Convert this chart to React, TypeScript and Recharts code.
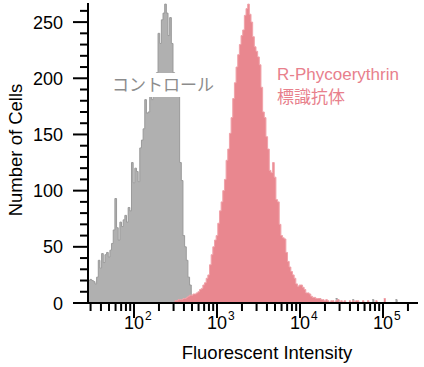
import { Area, ComposedChart, XAxis, YAxis } from "recharts";

// histogram bins on a log10 intensity scale
const binStart = 1.45;
const binWidth = 0.02;
const binCount = 190;

// control (unstained) histogram, counts per bin starting at bin 0
const controlCounts = [
  20, 21, 20, 19, 17, 23, 38, 31, 44, 36, 43, 45, 41, 47, 53, 65, 93, 67, 56, 72,
  68, 74, 78, 72, 85, 82, 125, 107, 120, 117, 108, 138, 145, 155, 181, 169, 170, 185, 181, 192,
  198, 205, 240, 231, 252, 258, 266, 258, 238, 254, 231, 205, 200, 195, 190, 125, 109, 60, 50, 38,
  23, 16, 6,
];
// a few stray control events far out on the right
const controlTailBins = [139, 149, 150, 159, 171, 185];
const controlTailCounts = [4, 4, 3, 3, 3, 3];

// R-Phycoerythrin labelled antibody histogram, starting at bin 52
const peFirstBin = 52;
const peCounts = [
  2, 2, 3, 3, 3, 4, 4, 5, 6, 7, 7, 8, 8, 9, 10, 12, 13, 16, 18, 22,
  25, 34, 43, 50, 56, 60, 71, 82, 90, 100, 110, 127, 137, 151, 165, 182, 196, 210, 221, 230,
  238, 243, 256, 262, 266, 257, 250, 237, 228, 224, 219, 212, 192, 170, 165, 148, 137, 118, 116, 125,
  112, 92, 90, 70, 60, 58, 57, 45, 37, 32, 28, 25, 22, 17, 15, 16, 16, 14, 12, 9,
  9, 8, 6, 5, 5, 4, 4, 4, 3, 3, 2, 3, 2, 0, 2, 2, 0, 2, 3, 0,
  2, 0, 2, 0, 0, 2, 0, 2, 0, 2, 2, 0, 0, 2, 0, 0, 2, 0, 0, 0,
  0, 2, 0, 0, 0, 0, 4, 0,
];

const xDecades = [2, 3, 4, 5];
const xMinorTicks = [30, 40, 50, 60, 70, 80, 90, 200, 300, 400, 500, 600, 700, 800, 900,
  2000, 3000, 4000, 5000, 6000, 7000, 8000, 9000, 20000, 30000, 40000, 50000, 60000, 70000,
  80000, 90000, 200000];
const yTicks = [0, 10, 20, 30, 40, 50, 60, 70, 80, 90, 100, 110, 120, 130, 140, 150, 160, 170,
  180, 190, 200, 210, 220, 230, 240, 250, 260];
const yLabels = [0, 50, 100, 150, 200, 250];

const controlAt = (i: number) => {
  if (i >= 0 && i < controlCounts.length) return controlCounts[i];
  const k = controlTailBins.indexOf(i);
  return k >= 0 ? controlTailCounts[k] : undefined;
};
const peAt = (i: number) => {
  const j = i - peFirstBin;
  return j >= 0 && j < peCounts.length ? peCounts[j] : undefined;
};
// step value: bar height, 0 to close the previous bar, null for no bar
const stepValue = (get: (i: number) => number | undefined, i: number) => {
  const c = get(i);
  if (c !== undefined && c > 0) return c;
  const prev = get(i - 1);
  if (prev !== undefined && prev > 0) return 0;
  return null;
};

const data = Array.from({ length: binCount }, (_, i) => ({
  x: binStart + i * binWidth,
  control: stepValue(controlAt, i),
  pe: stepValue(peAt, i),
}));

const xTicks = [...xDecades, ...xMinorTicks.map((v) => Math.log10(v))].sort((a, b) => a - b);

const font = "'Liberation Sans', Arial, sans-serif";
const jpFont = "'Noto Sans CJK JP', sans-serif";

function XTick(props: any) {
  const { x, y, payload } = props;
  const v = payload.value as number;
  const major = Math.abs(v - Math.round(v)) < 1e-6;
  return (
    <g>
      <line x1={x} x2={x} y1={y} y2={y + (major ? 15 : 8)} stroke="#000" strokeWidth={2} />
      {major && (
        <>
          <text x={x} y={y + 26} textAnchor="middle" fontSize={18} fontFamily={font} fill="#000">
            10
          </text>
          <text x={x + 11} y={y + 17} textAnchor="start" fontSize={12} fontFamily={font} fill="#000">
            {Math.round(v)}
          </text>
        </>
      )}
    </g>
  );
}

function YTick(props: any) {
  const { x, y, payload } = props;
  const v = payload.value as number;
  const major = yLabels.includes(v);
  return (
    <g>
      <line x1={x - (major ? 15 : 8)} x2={x} y1={y} y2={y} stroke="#000" strokeWidth={2} />
      {major && (
        <text x={x - 25} y={y + 6.5} textAnchor="end" fontSize={18} fontFamily={font} fill="#000">
          {v}
        </text>
      )}
    </g>
  );
}

export default function App() {
  return (
    <div style={{ position: "absolute", left: 0, top: 0, width: 424, height: 367, background: "#fff" }}>
      <ComposedChart width={424} height={367} data={data} margin={{ top: 3, right: 6, bottom: 0, left: 0 }}>
        <XAxis
          dataKey="x"
          type="number"
          domain={[1.446, 5.422]}
          allowDataOverflow
          ticks={xTicks}
          interval={0}
          tick={<XTick />}
          tickLine={false}
          tickSize={0}
          tickMargin={0}
          height={64}
          axisLine={{ stroke: "#000", strokeWidth: 2 }}
        />
        <XAxis
          xAxisId="top"
          orientation="top"
          type="number"
          domain={[1.446, 5.422]}
          tick={false}
          tickLine={false}
          height={0}
          axisLine={{ stroke: "#000", strokeWidth: 1 }}
        />
        <YAxis
          type="number"
          domain={[0, 267]}
          allowDataOverflow
          ticks={yTicks}
          interval={0}
          tick={<YTick />}
          tickLine={false}
          tickSize={0}
          tickMargin={0}
          width={88}
          axisLine={{ stroke: "#000", strokeWidth: 2 }}
        />
        <YAxis
          yAxisId="right"
          orientation="right"
          type="number"
          domain={[0, 267]}
          tick={false}
          tickLine={false}
          width={0}
          axisLine={{ stroke: "#000", strokeWidth: 2 }}
        />
        <Area
          dataKey="control"
          type="stepAfter"
          fill="#b0b0b0"
          fillOpacity={1}
          stroke="#9a9a9a"
          strokeWidth={1}
          isAnimationActive={false}
          dot={false}
          activeDot={false}
        />
        <Area
          dataKey="pe"
          type="stepAfter"
          fill="#e9878f"
          fillOpacity={1}
          stroke="#f0a2a9"
          strokeWidth={1}
          isAnimationActive={false}
          dot={false}
          activeDot={false}
        />
      </ComposedChart>
      <svg width={424} height={367} style={{ position: "absolute", left: 0, top: 0, pointerEvents: "none" }}>
        <rect x={108} y={73} width={109} height={24} fill="#fff" />
        <text x={112} y={91} fontSize={17} fontFamily={jpFont} fill="#8c8c8c">
          コントロール
        </text>
        <text x={277} y={80} fontSize={17} fontFamily={font} fill="#e8808c">
          R-Phycoerythrin
        </text>
        <text x={277} y={103} fontSize={17} fontFamily={jpFont} fill="#e8808c">
          標識抗体
        </text>
        <text
          transform="translate(22,150) rotate(-90)"
          textAnchor="middle"
          fontSize={18.5}
          fontFamily={font}
          fill="#000"
        >
          Number of Cells
        </text>
        <text x={267} y={359} textAnchor="middle" fontSize={18.5} fontFamily={font} fill="#000">
          Fluorescent Intensity
        </text>
      </svg>
    </div>
  );
}
